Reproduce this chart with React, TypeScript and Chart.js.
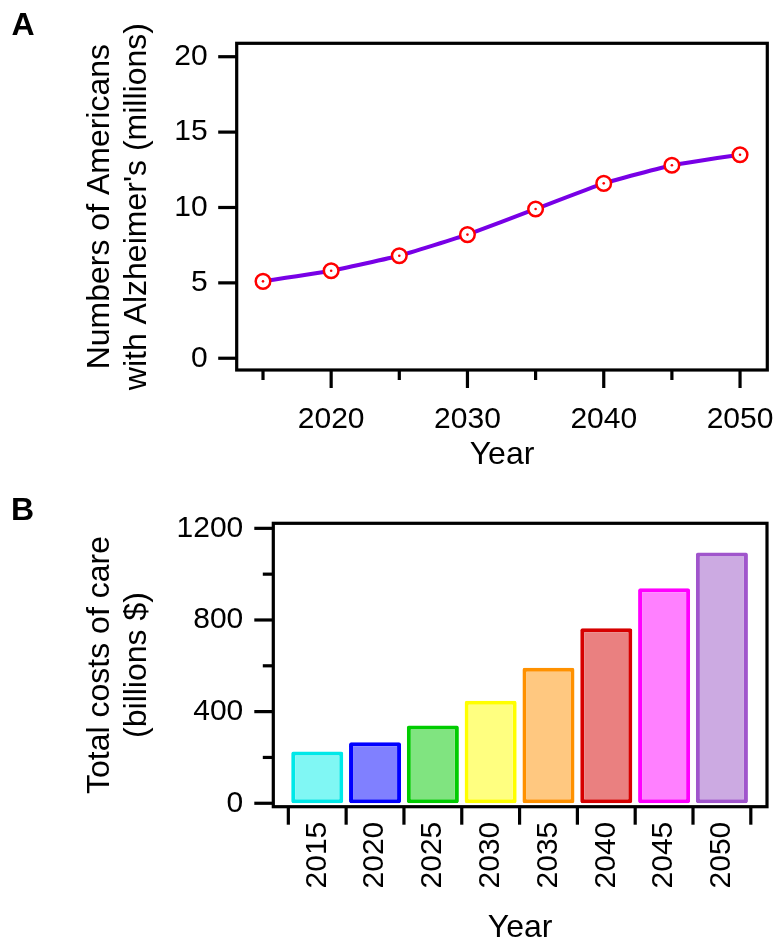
import React, { useEffect, useRef } from 'react';
import { Chart, registerables } from 'chart.js';

Chart.register(...registerables);

// ---- data ----
const years = [2015, 2020, 2025, 2030, 2035, 2040, 2045, 2050];
const patientsMillions = [5.1, 5.8, 6.8, 8.2, 9.9, 11.6, 12.8, 13.5];
const costsBillions = [226, 266, 339, 448, 592, 764, 938, 1095];

const yTicksA = [0, 5, 10, 15, 20];
const xLabelTicksA = [2020, 2030, 2040, 2050];
const xMinorTicksA = [2015, 2025, 2035, 2045];
const yTicksB = [0, 400, 800, 1200];
const yMinorTicksB = [200, 600, 1000];

const barFill = ['#80f7f4', '#8080ff', '#80e480', '#ffff80', '#ffc880', '#ea8080', '#ff80ff', '#ccaae2'];
const barBorder = ['#00e8e8', '#0000ff', '#00cc00', '#ffff00', '#ff9100', '#d60000', '#ff00ff', '#a055cc'];

const FONT = '"Liberation Sans", Arial, Helvetica, sans-serif';

const zeroPad = (s: any) => {
  s.paddingLeft = 0;
  s.paddingRight = 0;
  s.paddingTop = 0;
  s.paddingBottom = 0;
};

const framePlugin = {
  id: 'axisFrame',
  afterDraw(chart: any, _args: any, opts: any) {
    const { ctx, chartArea: a, scales } = chart;
    ctx.save();
    ctx.strokeStyle = '#000';
    ctx.lineWidth = 3.2;
    ctx.lineCap = 'butt';
    ctx.lineJoin = 'miter';
    ctx.strokeRect(a.left, a.top, a.right - a.left, a.bottom - a.top);
    for (const t of opts.xTicks || []) {
      const px = scales.x.getPixelForValue(t.value);
      ctx.beginPath();
      ctx.moveTo(px, a.bottom);
      ctx.lineTo(px, a.bottom + t.len);
      ctx.stroke();
    }
    for (const t of opts.yTicks || []) {
      const py = scales.y.getPixelForValue(t.value);
      ctx.beginPath();
      ctx.moveTo(a.left, py);
      ctx.lineTo(a.left - t.len, py);
      ctx.stroke();
    }
    ctx.restore();
  },
};

function makeLineChart(canvas: HTMLCanvasElement) {
  const pts = years.map((x, i) => ({ x, y: patientsMillions[i] }));
  return new Chart(canvas, {
    type: 'line',
    data: {
      datasets: [
        {
          data: pts,
          showLine: false,
          pointRadius: 1.3,
          pointBorderWidth: 0,
          pointBackgroundColor: '#ff0000',
          pointBorderColor: '#ff0000',
        },
        {
          data: pts,
          borderColor: '#7800e6',
          borderWidth: 4,
          tension: 0.1,
          fill: false,
          pointRadius: 7.3,
          pointBorderWidth: 2.5,
          pointBorderColor: '#ff0000',
          pointBackgroundColor: '#ffffff',
        },
      ],
    },
    options: {
      responsive: false,
      animation: false,
      layout: { padding: { left: 0, right: 13.7, top: 43.3, bottom: 0 } },
      plugins: {
        legend: { display: false },
        tooltip: { enabled: false },
        axisFrame: {
          xTicks: [
            ...xLabelTicksA.map((v) => ({ value: v, len: 18 })),
            ...xMinorTicksA.map((v) => ({ value: v, len: 10 })),
          ],
          yTicks: yTicksA.map((v) => ({ value: v, len: 18.5 })),
        },
      } as any,
      scales: {
        x: {
          type: 'linear',
          min: 2013.07,
          max: 2052,
          offset: false,
          grid: { display: false, drawTicks: false },
          border: { display: false },
          afterBuildTicks: (s: any) => {
            s.ticks = xLabelTicksA.map((v) => ({ value: v }));
          },
          afterFit: (s: any) => {
            s.height = 110;
            zeroPad(s);
          },
          ticks: {
            padding: 32,
            color: '#000',
            font: { family: FONT, size: 30 },
            callback: (v: any) => String(v),
          },
          title: {
            display: true,
            text: 'Year',
            color: '#000',
            font: { family: FONT, size: 32, lineHeight: 1 },
            padding: { top: 0, bottom: 9 },
          },
        },
        y: {
          type: 'linear',
          min: -0.78,
          max: 20.89,
          grid: { display: false, drawTicks: false },
          border: { display: false },
          afterBuildTicks: (s: any) => {
            s.ticks = yTicksA.map((v) => ({ value: v }));
          },
          afterFit: (s: any) => {
            s.width = 236.7;
            zeroPad(s);
          },
          ticks: {
            padding: 29,
            color: '#000',
            font: { family: FONT, size: 30 },
            callback: (v: any) => String(v),
          },
          title: {
            display: true,
            text: ['Numbers of Americans', "with Alzheimer's (millions)"],
            color: '#000',
            font: { family: FONT, size: 32, lineHeight: 1.16 },
            padding: { top: 81.4, bottom: 0 },
          },
        },
      },
    } as any,
    plugins: [framePlugin],
  });
}

function makeBarChart(canvas: HTMLCanvasElement) {
  const pts = years.map((x, i) => ({ x, y: costsBillions[i] }));
  const step = years[1] - years[0];
  const bounds = [...years.map((y) => y - step / 2), years[years.length - 1] + step / 2];
  return new Chart(canvas, {
    type: 'bar',
    data: {
      datasets: [
        {
          data: pts,
          backgroundColor: barFill,
          borderColor: barBorder,
          borderWidth: 4,
          borderRadius: 2,
          borderSkipped: false,
          barPercentage: 0.9,
          categoryPercentage: 1,
        },
      ],
    },
    options: {
      responsive: false,
      animation: false,
      layout: { padding: { left: 0, right: 14, top: 43.3, bottom: 0 } },
      plugins: {
        legend: { display: false },
        tooltip: { enabled: false },
        axisFrame: {
          xTicks: bounds.map((v) => ({ value: v, len: 18 })),
          yTicks: [
            ...yTicksB.map((v) => ({ value: v, len: 19 })),
            ...yMinorTicksB.map((v) => ({ value: v, len: 10.5 })),
          ],
        },
      } as any,
      scales: {
        x: {
          type: 'linear',
          min: 2011.2,
          max: 2053.9,
          offset: false,
          grid: { display: false, drawTicks: false, offset: false },
          border: { display: false },
          afterBuildTicks: (s: any) => {
            s.ticks = years.map((v) => ({ value: v }));
          },
          afterFit: (s: any) => {
            s.height = 138.3;
            zeroPad(s);
          },
          ticks: {
            padding: 15,
            minRotation: 90,
            maxRotation: 90,
            autoSkip: false,
            color: '#000',
            font: { family: FONT, size: 30 },
            callback: (v: any) => String(v),
          },
          title: {
            display: true,
            text: 'Year',
            color: '#000',
            font: { family: FONT, size: 32, lineHeight: 1 },
            padding: { top: 0, bottom: 1 },
          },
        },
        y: {
          type: 'linear',
          min: -15,
          max: 1222,
          grid: { display: false, drawTicks: false },
          border: { display: false },
          afterBuildTicks: (s: any) => {
            s.ticks = yTicksB.map((v) => ({ value: v }));
          },
          afterFit: (s: any) => {
            s.width = 273.3;
            zeroPad(s);
          },
          ticks: {
            padding: 30,
            color: '#000',
            font: { family: FONT, size: 30 },
            callback: (v: any) => String(v),
          },
          title: {
            display: true,
            text: ['Total costs of care', '(billions $)'],
            color: '#000',
            font: { family: FONT, size: 32, lineHeight: 1.16 },
            padding: { top: 81.4, bottom: 0 },
          },
        },
      },
    } as any,
    plugins: [framePlugin],
  });
}

export default function App() {
  const refA = useRef<HTMLCanvasElement>(null);
  const refB = useRef<HTMLCanvasElement>(null);

  useEffect(() => {
    const a = makeLineChart(refA.current!);
    const b = makeBarChart(refB.current!);
    return () => {
      a.destroy();
      b.destroy();
    };
  }, []);

  const letter: React.CSSProperties = {
    position: 'absolute',
    fontFamily: FONT,
    fontWeight: 'bold',
    fontSize: 32,
    lineHeight: 1,
    color: '#000',
    margin: 0,
  };

  return (
    <div style={{ position: 'absolute', left: 0, top: 0, width: 781, height: 945, background: '#fff', overflow: 'hidden' }}>
      <canvas
        ref={refA}
        width={781}
        height={480}
        style={{ position: 'absolute', left: 0, top: 0, width: 781, height: 480 }}
      />
      <canvas
        ref={refB}
        width={781}
        height={465}
        style={{ position: 'absolute', left: 0, top: 480, width: 781, height: 465 }}
      />
      <div style={{ ...letter, left: 11.5, top: 7.8 }}>A</div>
      <div style={{ ...letter, left: 11, top: 492.5 }}>B</div>
    </div>
  );
}
